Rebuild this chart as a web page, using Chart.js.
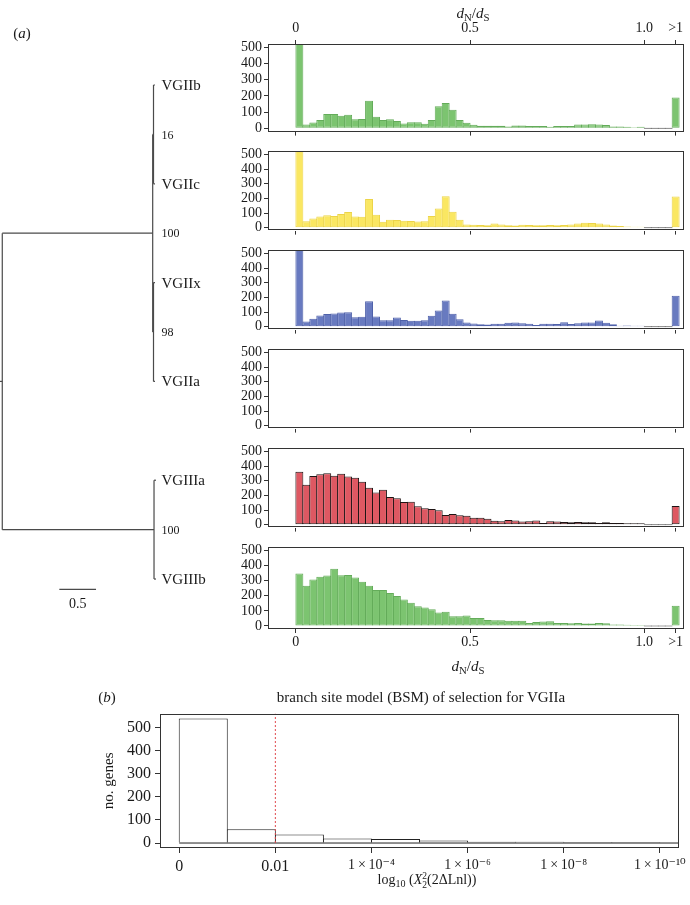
<!DOCTYPE html>
<html>
<head>
<meta charset="utf-8">
<script src="https://cdn.jsdelivr.net/npm/chart.js@4.4.1/dist/chart.umd.min.js"></script>
<style>
html, body { margin: 0; padding: 0; background: #fff; }
body { width: 690px; height: 905px; position: relative; overflow: hidden;
  font-family: "Liberation Serif", "DejaVu Serif", serif; color: #1a1a1a; }
.box { position: absolute; }
.txt { position: absolute; white-space: nowrap; transform: translate(-50%, -50%); line-height: 1; z-index: 5; }
sub { font-size: 0.72em; vertical-align: -0.3em; line-height: 0; }
.ss { display: inline-block; vertical-align: middle; font-size: 0.68em; line-height: 0.95; text-align: left; }
</style>
</head>
<body>
<div class="txt" style="left:22px;top:33px;font-size:15px">(<i>a</i>)</div>
<div class="txt" style="left:473px;top:13px;font-size:15px"><i>d</i><sub>N</sub>/<i>d</i><sub>S</sub></div>
<div class="txt" style="left:468px;top:666px;font-size:15px"><i>d</i><sub>N</sub>/<i>d</i><sub>S</sub></div>
<div class="txt" style="left:107px;top:697px;font-size:15px">(<i>b</i>)</div>
<div class="txt" style="left:421px;top:697px;font-size:15px">branch site model (BSM) of selection for VGIIa</div>
<div class="txt" style="left:427px;top:881px;font-size:14px">log<sub>10</sub> (<i>X</i><span class="ss">2<br>2</span>(2ΔLnl))</div>

<script>
// ---- data -------------------------------------------------------------
const tipNames = ['VGIIb', 'VGIIc', 'VGIIx', 'VGIIa', 'VGIIIa', 'VGIIIb'];
const tipDepth = [2.08, 2.08, 2.08, 2.08, 2.094, 2.094];
const nodeNames = ['n16', 'n98', 'nII', 'nIII', 'root'];
const nodeDepth = [2.06, 2.06, 2.049, 2.067, 0];
const nodeKids = [['VGIIb', 'VGIIc'], ['VGIIx', 'VGIIa'], ['n16', 'n98'], ['VGIIIa', 'VGIIIb'], ['nII', 'nIII']];
const nodeSupport = ['16', '98', '100', '100', ''];
const scaleBarLen = 0.5;

// dN/dS histograms, bins of 0.02 from 0 to 1.0, then the >1 bin
const xTickVals = [0, 0.5, 1.0, 1.09];
const xTickLabels = ['0', '0.5', '1.0', '>1'];
const yTickVals = [0, 100, 200, 300, 400, 500];

const countsVGIIb = [600, 24, 36, 52, 88, 88, 78, 84, 56, 58, 170, 72, 52, 56, 46, 30, 38, 38, 28, 52,
  136, 156, 114, 52, 34, 22, 16, 16, 16, 16, 12, 18, 18, 14, 14, 14, 10, 14, 14, 14,
  24, 24, 26, 24, 20, 12, 12, 10, 6, 10];
const countsVGIIc = [600, 44, 62, 76, 84, 80, 94, 106, 76, 74, 196, 88, 40, 54, 52, 48, 46, 42, 44, 80,
  130, 214, 108, 54, 22, 20, 18, 16, 28, 22, 16, 14, 20, 18, 16, 16, 18, 16, 18, 22,
  28, 34, 32, 28, 22, 14, 12, 8, 6, 4];
const countsVGIIx = [600, 36, 54, 76, 86, 90, 96, 98, 64, 68, 174, 70, 44, 44, 62, 46, 40, 40, 44, 74,
  110, 178, 88, 50, 28, 22, 16, 14, 20, 20, 26, 28, 24, 20, 12, 20, 20, 18, 30, 18,
  24, 28, 28, 42, 26, 16, 6, 8, 6, 4];
const countsVGIIa = [];
const countsVGIIIa = [360, 272, 332, 344, 350, 334, 348, 328, 320, 292, 252, 220, 238, 188, 180, 154, 156, 126, 112, 106,
  98, 66, 72, 64, 60, 48, 48, 40, 26, 24, 32, 28, 22, 24, 28, 12, 24, 22, 18, 16,
  18, 16, 16, 12, 16, 12, 12, 10, 10, 10];
const countsVGIIIb = [348, 266, 308, 326, 334, 378, 336, 338, 320, 292, 266, 238, 238, 218, 198, 176, 154, 130, 122, 110,
  90, 94, 64, 64, 70, 52, 52, 40, 38, 38, 34, 34, 34, 20, 26, 30, 32, 20, 20, 18,
  20, 16, 16, 20, 18, 10, 10, 8, 4, 4];
const overOne = [190, 212, 210, 0, 128, 134];
const panelCounts = [countsVGIIb, countsVGIIc, countsVGIIx, countsVGIIa, countsVGIIIa, countsVGIIIb];

// branch site model histogram (log10 p-value bins)
const bsmTickVals = [0, 2, 4, 6, 8, 10];
const bsmTickLabels = ['0', '0.01', '1\u2009×\u200910⁻⁴', '1\u2009×\u200910⁻⁶', '1\u2009×\u200910⁻⁸', '1\u2009×\u200910⁻¹⁰'];
const bsmCounts = [540, 60, 37, 20, 17, 11, 5, 6, 4, 4];
const bsmCutoff = 2;   // p = 0.01

// ---- styling ----------------------------------------------------------
const serif = '"Liberation Serif", "DejaVu Serif", serif';
const ink = '#1a1a1a';
const panelFill = ['rgb(124,196,112)', 'rgb(250,231,98)', 'rgb(104,122,192)', '#fff', 'rgb(222,88,98)', 'rgb(124,196,112)'];
const panelEdge = ['rgb(100,172,90)', 'rgb(236,212,72)', 'rgb(80,98,170)', '#fff', 'rgb(30,20,20)', 'rgb(100,172,90)'];
const panelTop = [44, 143, 242, 341, 440, 539];
const panelH = 90;
const binWidth = 0.02, emptyBins = 4;
const xMin = -0.08, xMax = 1.114, yMin = -20, yMax = 520;

Chart.defaults.font.family = serif;
Chart.defaults.color = ink;

const frame = {
  id: 'frame',
  afterDraw(chart) {
    const a = chart.chartArea, c = chart.ctx;
    c.save();
    c.strokeStyle = '#333';
    c.lineWidth = 1;
    c.strokeRect(Math.round(a.left) + 0.5, Math.round(a.top) + 0.5,
      Math.round(a.right - a.left) - 1, Math.round(a.bottom - a.top) - 1);
    c.restore();
  }
};

function addBox(left, top, w, h) {
  const d = document.createElement('div');
  d.className = 'box';
  d.style.cssText = `left:${left}px;top:${top}px;width:${w}px;height:${h}px`;
  const cv = document.createElement('canvas');
  d.appendChild(cv);
  document.body.appendChild(d);
  return cv;
}

function histPoints(counts, over) {
  if (!counts.length) return [];
  const pts = counts.map((c, i) => ({x: (i + 0.5) * binWidth, y: c}));
  for (let j = 0; j < emptyBins; j++) pts.push({x: 1 + (j + 0.5) * binWidth, y: 0});
  pts.push({x: 1 + (emptyBins + 0.5) * binWidth, y: over});
  return pts;
}

function xAxis(pos, labels, h) {
  return {
    type: 'linear', axis: 'x', position: pos, min: xMin, max: xMax, offset: false,
    afterBuildTicks: s => { s.ticks = xTickVals.map(v => ({value: v})); },
    afterFit: s => { s.height = h; },
    ticks: { display: labels, autoSkip: false, maxRotation: 0, padding: pos === 'top' ? 3 : 1,
      font: {size: 14}, color: ink, callback: (v, i) => xTickLabels[i] },
    grid: { offset: false, drawOnChartArea: false, tickLength: 4, color: '#333' },
    border: { display: false }
  };
}

panelCounts.forEach((counts, k) => {
  const first = k === 0, last = k === panelCounts.length - 1;
  const topPad = first ? 44 : 2;
  const hb = last ? 30 : 8;
  const cv = addBox(220, panelTop[k] - topPad, 470, topPad + panelH + hb);
  const scales = {
    x: xAxis('bottom', last, hb),
    y: {
      min: yMin, max: yMax,
      afterBuildTicks: s => { s.ticks = yTickVals.map(v => ({value: v})); },
      afterFit: s => { s.width = 48; },
      ticks: { font: {size: 14}, color: ink, padding: 2, autoSkip: false },
      grid: { drawOnChartArea: false, tickLength: 4, color: '#333' },
      border: { display: false }
    }
  };
  if (first) scales.xTop = xAxis('top', true, 44);
  new Chart(cv, {
    type: 'bar',
    data: { datasets: [{
      data: histPoints(counts, overOne[k]),
      backgroundColor: c => (c.raw && c.raw.y === 0) ? '#444' : panelFill[k],
      borderColor: c => (c.raw && c.raw.y === 0) ? '#444' : panelEdge[k],
      borderWidth: 1,
      borderSkipped: false,
      barPercentage: 1.14,
      categoryPercentage: 1,
      minBarLength: 1,
      clip: 0
    }]},
    options: {
      responsive: true, maintainAspectRatio: false, animation: false, events: [],
      layout: { padding: { top: first ? 0 : 2, right: 6, left: 0, bottom: 0 } },
      plugins: { legend: { display: false }, tooltip: { enabled: false } },
      scales
    },
    plugins: [frame]
  });
});

// ---- tree -------------------------------------------------------------
const pos = {};
tipNames.forEach((n, i) => { pos[n] = {x: tipDepth[i], y: i}; });
nodeNames.forEach((n, i) => {
  const ys = nodeKids[i].map(k => pos[k].y);
  pos[n] = {x: nodeDepth[i], y: ys.reduce((a, b) => a + b, 0) / ys.length};
});
const segs = [];
nodeNames.forEach((n, i) => {
  const p = pos[n], ys = nodeKids[i].map(k => pos[k].y);
  segs.push([{x: p.x, y: Math.min(...ys)}, {x: p.x, y: Math.max(...ys)}]);
  nodeKids[i].forEach(k => segs.push([{x: p.x, y: pos[k].y}, {x: pos[k].x, y: pos[k].y}]));
});
const treeXMin = -0.031, treeXMax = 3.102;
segs.push([{x: treeXMin, y: pos.root.y}, {x: 0, y: pos.root.y}]);
const barX = 0.777, barY = 5.104;
segs.push([{x: barX, y: barY}, {x: barX + scaleBarLen, y: barY}]);
const labelX = 2.169;

const treeLabels = {
  id: 'treeLabels',
  afterDatasetsDraw(chart) {
    const {ctx, scales: {x, y}} = chart;
    ctx.save();
    ctx.fillStyle = ink;
    ctx.textBaseline = 'middle';
    ctx.textAlign = 'left';
    ctx.font = '15px ' + serif;
    tipNames.forEach(n => ctx.fillText(n, x.getPixelForValue(labelX), y.getPixelForValue(pos[n].y) + 1));
    ctx.font = '12px ' + serif;
    nodeNames.forEach((n, i) => {
      if (nodeSupport[i]) ctx.fillText(nodeSupport[i], x.getPixelForValue(labelX), y.getPixelForValue(pos[n].y) + 1);
    });
    ctx.font = '14px ' + serif;
    ctx.textAlign = 'center';
    ctx.fillText(String(scaleBarLen), x.getPixelForValue(barX + scaleBarLen / 2), y.getPixelForValue(barY) + 15);
    ctx.restore();
  }
};

new Chart(addBox(0, 0, 230, 640), {
  type: 'scatter',
  data: { datasets: segs.map(s => ({ data: s, showLine: true, borderColor: '#4a4a4a', borderWidth: 1.2,
    pointRadius: 0, clip: false })) },
  options: {
    responsive: true, maintainAspectRatio: false, animation: false, events: [],
    layout: { padding: 0 },
    plugins: { legend: { display: false }, tooltip: { enabled: false } },
    scales: {
      x: { type: 'linear', display: false, min: treeXMin, max: treeXMax },
      y: { type: 'linear', display: false, min: -0.860, max: 5.617, reverse: true }
    }
  },
  plugins: [treeLabels]
});

// ---- (b) branch site model --------------------------------------------
const bsmXMax = 10.4, bsmYMin = -21.6, bsmYMax = 561.6;
new Chart(addBox(100, 700, 590, 205), {
  type: 'bar',
  data: { datasets: [
    { type: 'line', data: [{x: bsmCutoff, y: 0}, {x: bsmCutoff, y: bsmYMax}], borderColor: '#e0474c',
      borderDash: [2, 2], borderWidth: 1, pointRadius: 0, order: 0 },
    { type: 'line', data: [{x: 0, y: 0}, {x: bsmXMax, y: 0}], borderColor: '#222',
      borderWidth: 1, pointRadius: 0, order: 1 },
    { data: bsmCounts.map((c, i) => ({x: i + 0.5, y: c})), backgroundColor: '#fff', borderColor: '#222',
      borderWidth: 1, borderSkipped: 'start', barPercentage: 1.02, categoryPercentage: 1, order: 2 }
  ]},
  options: {
    responsive: true, maintainAspectRatio: false, animation: false, events: [],
    layout: { padding: { top: 12, right: 8, left: 0, bottom: 0 } },
    plugins: { legend: { display: false }, tooltip: { enabled: false } },
    scales: {
      x: {
        type: 'linear', min: -0.4, max: bsmXMax, offset: false,
        afterBuildTicks: s => { s.ticks = bsmTickVals.map(v => ({value: v})); },
        afterFit: s => { s.height = 57; },
        ticks: { autoSkip: false, maxRotation: 0, padding: 4, color: ink,
          font: c => ({size: (c.tick && c.tick.value >= 4) ? 14 : 16}),
          callback: (v, i) => bsmTickLabels[i] },
        grid: { offset: false, drawOnChartArea: false, tickLength: 5, color: '#333' },
        border: { display: false }
      },
      y: {
        min: bsmYMin, max: bsmYMax,
        afterBuildTicks: s => { s.ticks = yTickVals.map(v => ({value: v})); },
        afterFit: s => { s.width = 60; },
        ticks: { font: {size: 16}, color: ink, padding: 4, autoSkip: false },
        grid: { drawOnChartArea: false, tickLength: 5, color: '#333' },
        border: { display: false },
        title: { display: true, text: 'no. genes', font: {size: 15}, color: ink, padding: 0 }
      }
    }
  },
  plugins: [frame]
});
</script>
</body>
</html>
